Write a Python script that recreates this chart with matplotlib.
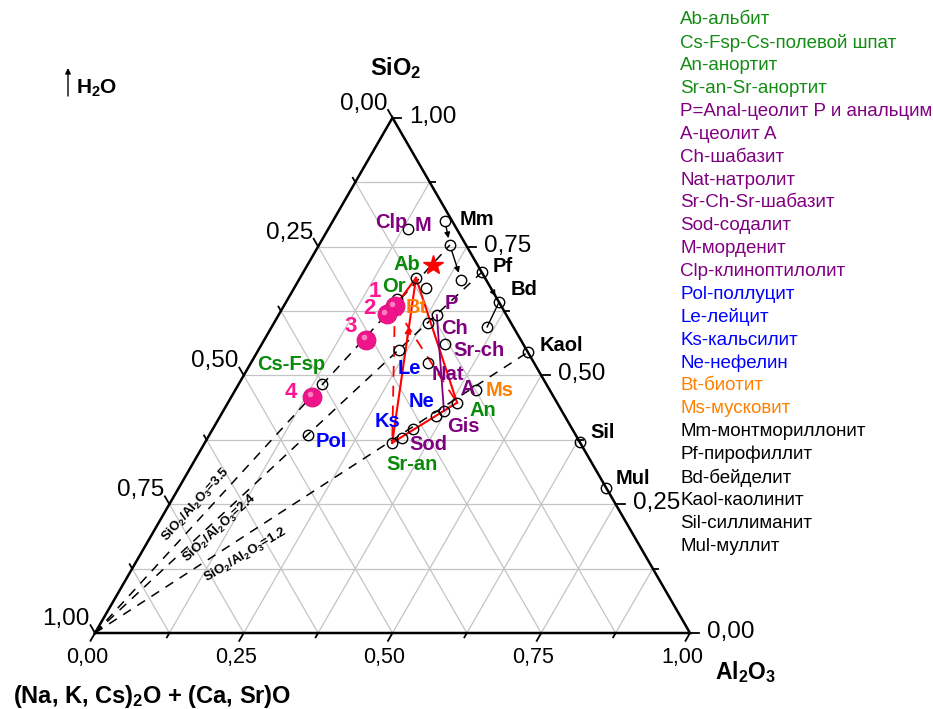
import numpy as np
import matplotlib
matplotlib.use('Agg')
import matplotlib.pyplot as plt

plt.rcParams['font.family'] = ['Liberation Sans', 'DejaVu Sans']
plt.rcParams['mathtext.fontset'] = 'custom'
plt.rcParams['mathtext.rm'] = 'Liberation Sans'
plt.rcParams['mathtext.bf'] = 'Liberation Sans:bold'
plt.rcParams['mathtext.it'] = 'Liberation Sans:italic'

# ---------------- data (fractions: alkali oxides, Al2O3, SiO2) ----------------
pt_names = ['M', 'Mm', 'Mm_h', 'Mm_h2', 'Pf', 'Bd', 'Bd_h', 'Kaol', 'Sil', 'Mul',
            'Ms', 'Ab', 'Ab2', 'Or', 'P', 'Ch', 'Srch', 'Le', 'Nat', 'A',
            'Gis1', 'Gis2', 'Sod', 'Ks', 'Sran', 'CsFsp', 'Pol']
pt_alk = [0.082, 0.012, 0.027, 0.042, 0.000, 0.000, 0.044, 0.000, 0.000, 0.000,
          0.124, 0.116, 0.109, 0.168, 0.117, 0.139, 0.131, 0.215, 0.178, 0.168,
          0.216, 0.198, 0.268, 0.295, 0.316, 0.377, 0.450]
pt_al = [0.134, 0.188, 0.220, 0.272, 0.300, 0.358, 0.362, 0.455, 0.629, 0.719,
         0.405, 0.195, 0.222, 0.184, 0.266, 0.259, 0.308, 0.236, 0.298, 0.385,
         0.363, 0.371, 0.336, 0.327, 0.315, 0.140, 0.166]
pt_si = [0.784, 0.800, 0.753, 0.686, 0.700, 0.642, 0.594, 0.545, 0.371, 0.281,
         0.471, 0.689, 0.669, 0.648, 0.617, 0.602, 0.561, 0.549, 0.524, 0.447,
         0.421, 0.431, 0.396, 0.378, 0.369, 0.483, 0.384]

# samples 1-4
smp_names = ['1', '2', '3', '4']
smp_alk = [0.179, 0.200, 0.260, 0.406]
smp_al = [0.187, 0.181, 0.171, 0.136]
smp_si = [0.634, 0.619, 0.569, 0.458]

# star
star_alk, star_al, star_si = [0.075], [0.211], [0.714]

# SiO2/Al2O3 ratio lines (from alkali vertex to end member)
ratio_labels = ['3.5', '2.4', '1.2']
ratio_ends = ['Mm_h', 'Pf', 'Kaol']

red_solid = [('Ab', '1'), ('Ab', 'Sran'), ('Ab', 'A'), ('Sran', 'A')]
red_dashed = [('1', 'Sran'), ('1', 'A')]
purple_lines = [('P', 'Gis2')]
black_arrows = [('Mm', 'Mm_h'), ('Mm_h', 'Mm_h2'), ('Pf', 'Bd')]
black_lines = [('Bd', 'Bd_h')]

legend_items = [
    ('Ab-альбит', 'g'), ('Cs-Fsp-Cs-полевой шпат', 'g'), ('An-анортит', 'g'),
    ('Sr-an-Sr-анортит', 'g'), ('P=Anal-цеолит P и анальцим', 'p'),
    ('A-цеолит A', 'p'), ('Ch-шабазит', 'p'), ('Nat-натролит', 'p'),
    ('Sr-Ch-Sr-шабазит', 'p'), ('Sod-содалит', 'p'), ('M-морденит', 'p'),
    ('Clp-клиноптилолит', 'p'), ('Pol-поллуцит', 'b'), ('Le-лейцит', 'b'),
    ('Ks-кальсилит', 'b'), ('Ne-нефелин', 'b'), ('Bt-биотит', 'o'),
    ('Ms-мусковит', 'o'), ('Mm-монтмориллонит', 'k'), ('Pf-пирофиллит', 'k'),
    ('Bd-бейделит', 'k'), ('Kaol-каолинит', 'k'), ('Sil-силлиманит', 'k'),
    ('Mul-муллит', 'k')]

COL = {'g': '#0a8a0a', 'p': '#800080', 'b': '#0000ff', 'o': '#ff8000',
       'k': '#000000', 'pink': '#ff1493'}

# ---------------- helpers ----------------
S3 = np.sqrt(3) / 2


def tern(a, b, c):
    a, b, c = np.asarray(a, float), np.asarray(b, float), np.asarray(c, float)
    s = a + b + c
    b, c = b / s, c / s
    return b + c / 2, c * S3


W = 595.0
X0, Y0 = 95.0, 633.0


def pix(px, py):
    return (px - X0) / W, (Y0 - py) / W


fig = plt.figure(figsize=(9.33, 7.09), dpi=100)
ax = fig.add_axes([X0 / 933, (709 - Y0) / 709, W / 933, W * S3 / 709])
ax.set_xlim(0, 1)
ax.set_ylim(0, S3)
ax.axis('off')

# grid
for k in range(1, 8):
    v = k / 8
    for p1, p2 in [((v, 1 - v, 0), (v, 0, 1 - v)),
                   ((1 - v, v, 0), (0, v, 1 - v)),
                   ((1 - v, 0, v), (0, 1 - v, v))]:
        x1, y1 = tern(*p1)
        x2, y2 = tern(*p2)
        ax.plot([x1, x2], [y1, y2], color='#c4c4c4', lw=0.9, zorder=1, clip_on=False)

# triangle
tx, ty = tern([1, 0, 0, 1], [0, 1, 0, 0], [0, 0, 1, 0])
ax.plot(tx, ty, color='k', lw=1.8, zorder=3, clip_on=False, solid_joinstyle='miter')

# ticks and labels
maj, mnr = 9 / W, 5 / W
for k in range(9):
    v = k / 8
    L = maj if k % 2 == 0 else mnr
    # bottom (Al2O3)
    x, y = tern(1 - v, v, 0)
    ax.plot([x, x - 0.5 * L], [y, y - S3 * L], color='k', lw=1.3, clip_on=False, zorder=3)
    # right (SiO2)
    x, y = tern(0, 1 - v, v)
    ax.plot([x, x + L], [y, y], color='k', lw=1.3, clip_on=False, zorder=3)
    # left (alkali)
    x, y = tern(v, 0, 1 - v)
    ax.plot([x, x - 0.5 * L], [y, y + S3 * L], color='k', lw=1.3, clip_on=False, zorder=3)
    if k % 2 == 0:
        lab = f'{v:.2f}'.replace('.', ',')
        x, y = tern(1 - v, v, 0)
        ax.text(x - 8 / W, y - 24 / W, lab, fontsize=15.5, ha='center', va='center')
        x, y = tern(0, 1 - v, v)
        ax.text(x + 17 / W, y + 1 / W, lab, fontsize=17.5, ha='left', va='center')
        x, y = tern(v, 0, 1 - v)
        ax.text(x - 5 / W, y + 14 / W, lab, fontsize=17.5, ha='right', va='center')

# ratio dashed lines
px_all, py_all = tern(pt_alk, pt_al, pt_si)
sx, sy = tern(smp_alk, smp_al, smp_si)
pos = {n: (px_all[i], py_all[i]) for i, n in enumerate(pt_names)}
for i, n in enumerate(smp_names):
    pos[n] = (sx[i], sy[i])

ax0 = tern(1, 0, 0)
for lab, end in zip(ratio_labels, ratio_ends):
    ax.plot([ax0[0], pos[end][0]], [ax0[1], pos[end][1]], color='k', lw=1.1,
            ls=(0, (6, 5)), zorder=2, clip_on=False)

ratio_text_pos = [(196, 505, 48), (220, 528, 42.5), (246, 555, 31)]
for lab, (qx, qy, ang) in zip(ratio_labels, ratio_text_pos):
    x, y = pix(qx, qy)
    ax.text(x, y, r'SiO$_\mathbf{2}$/Al$_\mathbf{2}$O$_\mathbf{3}$=' + lab, fontsize=9.5,
            fontweight='bold', rotation=ang, rotation_mode='anchor',
            ha='center', va='center')

# connection lines
for a, b in red_solid:
    ax.plot([pos[a][0], pos[b][0]], [pos[a][1], pos[b][1]], color='#ff0000', lw=1.5, zorder=4)
for a, b in red_dashed:
    ax.plot([pos[a][0], pos[b][0]], [pos[a][1], pos[b][1]], color='#ff0000', lw=1.3,
            ls=(0, (6, 5)), zorder=4)
# arrow head on Ks -> Ab line
a, b = pos['Sran'], pos['Ab']
m = (a[0] + 0.72 * (b[0] - a[0]), a[1] + 0.72 * (b[1] - a[1]))
m0 = (a[0] + 0.62 * (b[0] - a[0]), a[1] + 0.62 * (b[1] - a[1]))
ax.annotate('', xy=m, xytext=m0, arrowprops=dict(arrowstyle='-|>', color='#ff0000',
            lw=1.2, mutation_scale=9), zorder=5)
for a, b in purple_lines:
    ax.plot([pos[a][0], pos[b][0]], [pos[a][1], pos[b][1]], color='#800080', lw=1.3, zorder=4)
for a, b in black_arrows:
    ax.annotate('', xy=pos[b], xytext=pos[a],
                arrowprops=dict(arrowstyle='-|>', color='k', lw=1.0, mutation_scale=8,
                                shrinkA=4, shrinkB=5), zorder=5)
for a, b in black_lines:
    ax.plot([pos[a][0], pos[b][0]], [pos[a][1], pos[b][1]], color='k', lw=1.0, zorder=4)

# circles
ax.plot(px_all, py_all, 'o', ms=7.5, mfc='none', mec='k', mew=1.0, zorder=6, clip_on=False)

# samples (pink balls)
ax.plot(sx, sy, 'o', ms=13.5, mfc='#f0148a', mec='#e0107f', mew=0.8, zorder=7)
ax.plot(sx - 2.5 / W, sy + 2.5 / W, 'o', ms=4, mfc='#ff9ad0', mec='none', zorder=8, alpha=0.8)

# star
stx, sty = tern(star_alk, star_al, star_si)
ax.plot(stx, sty, '*', ms=15, color='#ff0000', mec='#ff0000', zorder=7)

# point labels (pixel positions)
point_labels = [
    ('Clp', 391, 223, 'p'), ('M', 423, 226, 'p'), ('Mm', 477, 220, 'k'),
    ('Pf', 503, 267, 'k'), ('Bd', 524, 290, 'k'), ('Kaol', 561, 346, 'k'),
    ('Sil', 603, 433, 'k'), ('Mul', 633, 478, 'k'), ('Ab', 407, 265, 'g'),
    ('Or', 394, 287, 'g'), ('Bt', 416, 308, 'o'), ('P', 451, 304, 'p'),
    ('Ch', 454, 329, 'p'), ('Sr-ch', 479, 351, 'p'), ('Le', 409, 369, 'b'),
    ('Nat', 448, 375, 'p'), ('A', 468, 389, 'p'), ('Ms', 500, 391, 'o'),
    ('An', 483, 411, 'g'), ('Ne', 422, 402, 'b'), ('Gis', 463, 427, 'p'),
    ('Ks', 387, 422, 'b'), ('Sod', 428, 445, 'p'), ('Sr-an', 412, 464, 'g'),
    ('Pol', 331, 442, 'b'), ('Cs-Fsp', 291, 365, 'g'),
    ('1', 375, 292, 'pink'), ('2', 369, 309, 'pink'), ('3', 351, 327, 'pink'),
    ('4', 291, 393, 'pink')]
for t, qx, qy, c in point_labels:
    x, y = pix(qx, qy)
    fs = 16 if c == 'pink' else 14.5
    ax.text(x, y, t, color=COL[c], fontsize=fs, fontweight='bold', ha='center',
            va='center', zorder=9)

# axis titles
x, y = pix(396, 68)
ax.text(x, y, r'SiO$_\mathbf{2}$', fontsize=17, fontweight='bold', ha='center', va='center')
x, y = pix(746, 672)
ax.text(x, y, r'Al$_\mathbf{2}$O$_\mathbf{3}$', fontsize=16.5, fontweight='bold', ha='center', va='center')
x, y = pix(152, 696)
ax.text(x, y, r'(Na, K, Cs)$_\mathbf{2}$O + (Ca, Sr)O', fontsize=17, fontweight='bold',
        ha='center', va='center')
x, y = pix(76, 88)
ax.text(x, y, r'H$_\mathbf{2}$O', fontsize=15, fontweight='bold', ha='left', va='center')
ax.annotate('', xy=pix(68, 68), xytext=pix(68, 96),
            arrowprops=dict(arrowstyle='-|>', color='k', lw=1.0, mutation_scale=8,
                            shrinkA=0, shrinkB=0), annotation_clip=False)

# legend text
for i, (t, c) in enumerate(legend_items):
    x, y = pix(680, 20 + i * 22.87)
    ax.text(x, y, t, color=COL[c] if c != 'g' else '#128c12', fontsize=13.5,
            ha='left', va='center')

fig.savefig('out.png', dpi=100)
